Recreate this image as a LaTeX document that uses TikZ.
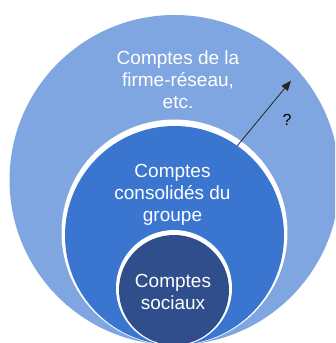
\documentclass[tikz,border=0pt]{standalone}
\usepackage{fontspec}
\setmainfont{Liberation Sans}
\usetikzlibrary{arrows.meta}
\definecolor{ringlight}{HTML}{7FA6E0}
\definecolor{ringmid}{HTML}{3A76D0}
\definecolor{ringdark}{HTML}{2F4E8B}
\begin{document}
\begin{tikzpicture}[x=1pt, y=-1pt, >={Triangle[length=10pt,width=8pt]},
    disc/.style={circle, inner sep=0pt, draw=none},
    ringtext/.style={text=white, align=center, font=\fontsize{19}{22}\selectfont}]
    \useasboundingbox (0,0) rectangle (335,343);
    \clip (0,0) rectangle (335,343);
    % nested circles, all touching at the bottom
    \node[disc, fill=ringlight, minimum size=330pt] (outer) at (174.5,180) {};
    \node[disc, fill=white, minimum size=226pt] (midhalo) at (174.5,232.5) {};
    \node[disc, fill=ringmid, minimum size=219pt] (middle) at (174.5,235.5) {};
    \node[disc, fill=white, minimum size=116pt] (innhalo) at (174,288) {};
    \node[disc, fill=ringdark, minimum size=110pt] (inner) at (174,290) {};
    \node[ringtext] (outertext) at (178,79.5) {Comptes de la\\firme-réseau,\\etc.};
    \node[ringtext] (middletext) at (172.5,194.5) {Comptes\\consolidés du\\groupe};
    \node[ringtext] (innertext) at (173,292) {Comptes\\sociaux};
    \coordinate (tip) at (291,80.7);
    \draw[->, line width=0.8pt, black!85] (middle.55) -- (tip);
    \node[font=\fontsize{16}{19}\selectfont] (ask) at (287,120) {?};
\end{tikzpicture}
\end{document}
